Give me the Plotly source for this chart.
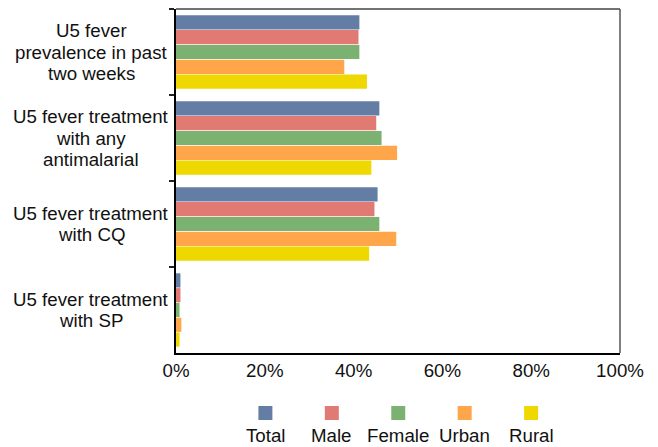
import plotly.graph_objects as go

categories = [
    "U5 fever<br>prevalence in past<br>two weeks",
    "U5 fever treatment<br>with any<br>antimalarial",
    "U5 fever treatment<br>with CQ",
    "U5 fever treatment<br>with SP",
]
series_names = ["Total", "Male", "Female", "Urban", "Rural"]
total = [41.3, 45.8, 45.4, 1.0]
male = [41.1, 45.1, 44.7, 1.0]
female = [41.3, 46.3, 45.8, 0.8]
urban = [37.9, 49.8, 49.6, 1.2]
rural = [43.0, 44.0, 43.5, 0.8]
series_values = [total, male, female, urban, rural]
colors = ["#647DA5", "#E07A72", "#7BB272", "#FFA64A", "#EED800"]
x_ticks = [0, 20, 40, 60, 80, 100]

FONT = "Liberation Sans, Arial, sans-serif"
FS = 18.7
TXT = "#111111"

# plot area in pixels (for legend placement)
L, R, T, B = 175.5, 620, 9, 353
W, H = R - L, B - T

fig = go.Figure()
for name, vals, col in zip(series_names, series_values, colors):
    fig.add_trace(go.Bar(
        y=categories, x=vals, name=name, orientation="h",
        marker=dict(color=col, line=dict(width=0)),
        showlegend=False,
    ))

# category labels (centered multi-line, tight line spacing)
LH = 21.5
for c in categories:
    lines = c.split("<br>")
    n = len(lines)
    for k, ln in enumerate(lines):
        fig.add_annotation(
            x=0, xref="paper", y=c, yref="y", text=ln, showarrow=False,
            xanchor="center", yanchor="middle", xshift=-7 - 78,
            yshift=((n - 1) / 2 - k) * LH,
            font=dict(family=FONT, size=FS, color=TXT),
        )

# custom legend: squares above labels
sq_cx0, sq_dx, sq_cy, txt_cy, half = 265, 66.5, 413, 435, 7
for i, (name, col) in enumerate(zip(series_names, colors)):
    cx = sq_cx0 + i * sq_dx
    fig.add_shape(
        type="rect", xref="paper", yref="paper",
        x0=(cx - half - L) / W, x1=(cx + half - L) / W,
        y0=(B - (sq_cy + half)) / H, y1=(B - (sq_cy - half)) / H,
        fillcolor=col, line=dict(width=0),
    )
    fig.add_annotation(
        x=(cx - L) / W, xref="paper", y=(B - txt_cy) / H, yref="paper",
        text=name, showarrow=False,
        font=dict(family=FONT, size=FS, color=TXT),
        xanchor="center", yanchor="middle",
    )

# gray top/right frame
fig.add_shape(type="line", xref="paper", yref="paper", x0=0, x1=1, y0=1, y1=1,
              line=dict(color="#444", width=1.5))
fig.add_shape(type="line", xref="paper", yref="paper", x0=1, x1=1, y0=0, y1=1,
              line=dict(color="#555", width=1.5))

fig.update_layout(
    width=658, height=447,
    margin=dict(l=L, r=658 - R, t=T, b=447 - B),
    barmode="group", bargap=0.14, bargroupgap=0.04,
    plot_bgcolor="white", paper_bgcolor="white",
    font=dict(family=FONT, size=FS, color=TXT),
    xaxis=dict(
        range=[0, 100], tickmode="array", tickvals=x_ticks,
        ticktext=[f"{v}%" for v in x_ticks],
        showgrid=False, zeroline=False, showline=True, linecolor="black",
        linewidth=2, ticks="", tickfont=dict(family=FONT, size=FS, color=TXT),
    ),
    yaxis=dict(
        autorange="reversed", showticklabels=False, tickson="boundaries",
        ticks="outside", ticklen=5, tickcolor="#222", tickwidth=1.5,
        showgrid=False, zeroline=False, showline=True, linecolor="black", linewidth=2,
    ),
)

fig.write_html("out.html", config={"displayModeBar": False},
               post_script="document.body.style.margin='0';")
